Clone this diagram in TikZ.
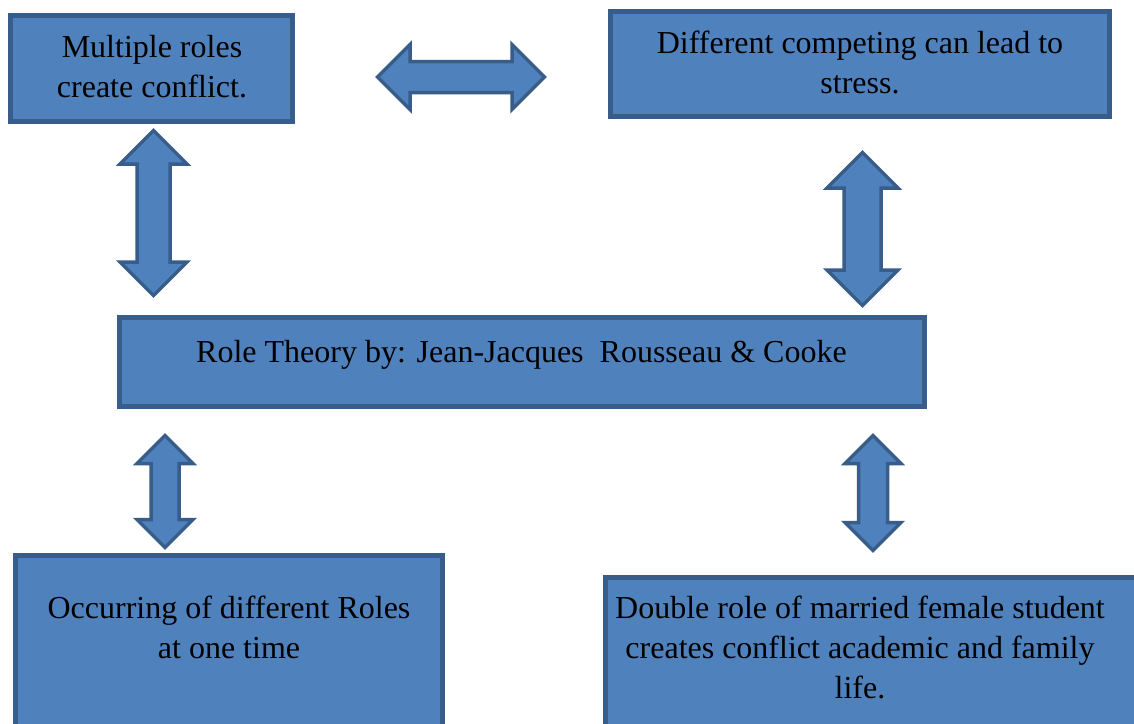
\documentclass[tikz,border=0pt]{standalone}
\usepackage{fontspec}
\setmainfont{Liberation Serif}
\usetikzlibrary{shapes.arrows}
\definecolor{boxfill}{HTML}{4F81BD}
\definecolor{boxline}{HTML}{385D8A}
\begin{document}
\begin{tikzpicture}[x=1pt,y=-1pt,
  box/.style={rectangle, draw=boxline, fill=boxfill, line width=4.5pt, inner sep=0pt},
  boxtext/.style={inner sep=0pt, anchor=base, text=black, font=\rmfamily\fontsize{32}{40}\selectfont},
  link/.style={double arrow, draw=boxline, fill=boxfill, line width=3.5pt,
    inner xsep=0pt, double arrow tip angle=90}]
  \clip (0,0) rectangle (1134,723);
  \fill[white] (0,0) rectangle (1134,723);

  % boxes
  \node[box, minimum width=282pt, minimum height=106pt] (b1) at (151.5,68.5) {};
  \node[box, minimum width=499pt, minimum height=105pt] (b2) at (860,64) {};
  \node[box, minimum width=805pt, minimum height=89pt] (b3) at (522,362) {};
  \node[box, minimum width=427pt, minimum height=204.5pt] (b4) at (229,657.75) {};
  \node[box, minimum width=539.5pt, minimum height=182.5pt] (b5) at (875.25,668.75) {};

  % box texts
  \node[boxtext] (t1) at (152,57) {\parbox[t]{270pt}{\centering Multiple roles\\create conflict.}};
  \node[boxtext] (t2) at (860,53) {\parbox[t]{490pt}{\centering Different competing can lead to\\stress.}};
  \node[boxtext] (t3) at (521.5,362) {\parbox[t]{790pt}{\centering Role Theory by: Jean-Jacques\ \ Rousseau \& Cooke}};
  \node[boxtext] (t4) at (229,618) {\parbox[t]{420pt}{\centering Occurring of different Roles\\at one time}};
  \node[boxtext] (t5) at (860,618) {\parbox[t]{520pt}{\centering Double role of married female student\\creates conflict academic and family\\life.}};

  % two-headed block arrows between the boxes
  \node[link, minimum height=167pt, inner ysep=13.75pt, double arrow head extend=17pt] (ab12) at (461,77) {};
  \node[link, rotate=90, minimum height=165pt, inner ysep=14.75pt, double arrow head extend=17pt] (ab13) at (153.5,213) {};
  \node[link, rotate=90, minimum height=153pt, inner ysep=16.75pt, double arrow head extend=17pt] (ab23) at (862.5,229) {};
  \node[link, rotate=90, minimum height=112pt, inner ysep=12.25pt, double arrow head extend=14pt] (ab34) at (165,491.5) {};
  \node[link, rotate=90, minimum height=115pt, inner ysep=12.75pt, double arrow head extend=13.5pt] (ab35) at (873,493) {};
\end{tikzpicture}
\end{document}
